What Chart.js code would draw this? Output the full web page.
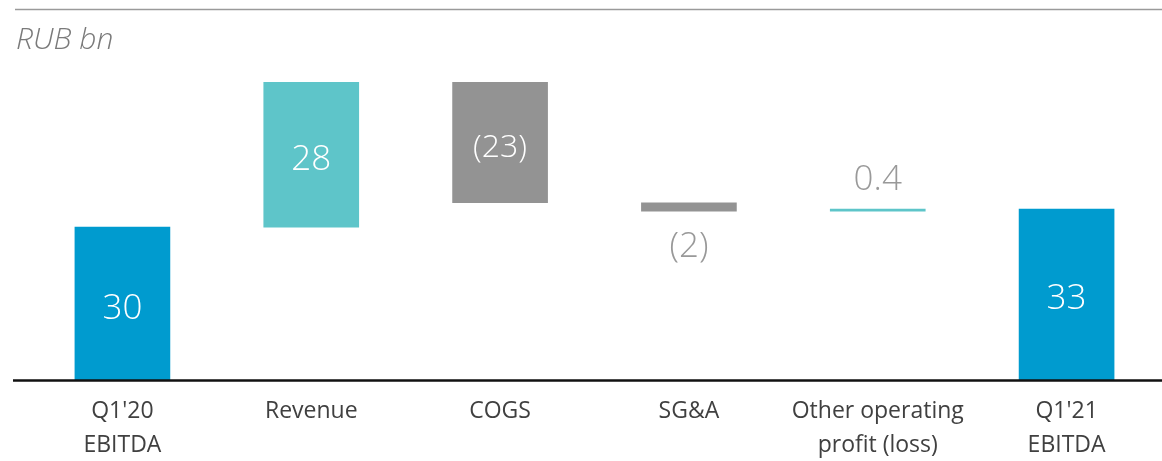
<!DOCTYPE html>
<html>
<head>
<meta charset="utf-8">
<script src="https://cdn.jsdelivr.net/npm/chart.js@4.4.1/dist/chart.umd.min.js"></script>
<style>
  html, body { margin: 0; padding: 0; background: #fff; }
  #wrap { position: relative; width: 1162px; height: 461px; }
</style>
</head>
<body>
<div id="wrap"><canvas id="graficoEbitda" width="1162" height="461"></canvas></div>
<script>
const categorias = [
  ["Q1'20", "EBITDA"],
  "Revenue",
  "COGS",
  "SG&A",
  ["Other operating", "profit (loss)"],
  ["Q1'21", "EBITDA"],
];
// first and last are totals, the rest are changes
const valores = [29.6, 28.0, -23.3, -1.6, 0.4, 33.1];
const rotulos = ["30", "28", "(23)", "(2)", "0.4", "33"];
const tipos = ["total", "delta", "delta", "delta", "delta", "total"];

const AZUL = "#009bcf";
const TURQUESA = "#5ec5c9";
const CINZA = "#939393";

// floating [base, top] ranges for the waterfall
const faixas = [];
const cores = [];
let acumulado = 0;
valores.forEach((v, i) => {
  if (tipos[i] === "total") {
    faixas.push([0, v]);
    cores.push(AZUL);
    acumulado = v;
  } else {
    faixas.push([acumulado, acumulado + v]);
    cores.push(v >= 0 ? TURQUESA : CINZA);
    acumulado += v;
  }
});

const linhasFixas = {
  id: "linhasFixas",
  afterDraw(chart) {
    const ctx = chart.ctx;
    const y0 = chart.scales.y.getPixelForValue(0);
    ctx.save();
    // top rule
    ctx.strokeStyle = "#9a9a9a";
    ctx.lineWidth = 1.5;
    ctx.beginPath();
    ctx.moveTo(15, 9.5);
    ctx.lineTo(chart.width, 9.5);
    ctx.stroke();
    // baseline
    ctx.strokeStyle = "#111";
    ctx.lineWidth = 2.5;
    ctx.beginPath();
    ctx.moveTo(13, y0 + 0.5);
    ctx.lineTo(chart.width, y0 + 0.5);
    ctx.stroke();
    // unit caption
    ctx.fillStyle = "#7a7a7a";
    ctx.font = "italic 300 30px 'Open Sans', sans-serif";
    ctx.textAlign = "left";
    ctx.textBaseline = "middle";
    ctx.fillText("RUB bn", 16, 40);
    ctx.restore();
  },
};

const rotulosBarras = {
  id: "rotulosBarras",
  afterDatasetsDraw(chart) {
    const ctx = chart.ctx;
    const meta = chart.getDatasetMeta(0);
    ctx.save();
    ctx.textAlign = "center";
    ctx.textBaseline = "middle";
    meta.data.forEach((bar, i) => {
      const { x, y, base } = bar.getProps(["x", "y", "base"], true);
      const topo = Math.min(y, base);
      const fundo = Math.max(y, base);
      const tamanho = i === 2 ? 32 : 35;
      ctx.font = `300 ${tamanho}px 'Open Sans', sans-serif`;
      if (fundo - topo > 50) {
        ctx.fillStyle = "#ffffff";
        ctx.fillText(rotulos[i], x, (topo + fundo) / 2 + 5);
      } else if (valores[i] < 0) {
        ctx.fillStyle = "#999999";
        ctx.fillText(rotulos[i], x, fundo + 36);
      } else {
        ctx.fillStyle = "#999999";
        ctx.fillText(rotulos[i], x, topo - 29);
      }
    });
    ctx.restore();
  },
};

const ctx = document.getElementById("graficoEbitda").getContext("2d");
new Chart(ctx, {
  type: "bar",
  data: {
    labels: categorias,
    datasets: [
      {
        data: faixas,
        backgroundColor: cores,
        borderWidth: 0,
        borderSkipped: false,
        barThickness: 95,
      },
    ],
  },
  options: {
    responsive: false,
    animation: false,
    layout: { padding: { top: 70, left: 28, right: 1, bottom: 0 } },
    scales: {
      x: {
        grid: { display: false, drawTicks: false },
        border: { display: false },
        ticks: {
          color: "#404040",
          padding: 15,
          maxRotation: 0,
          autoSkip: false,
          font: { family: "'Open Sans', sans-serif", size: 23, lineHeight: 1.45 },
        },
        afterFit(scale) {
          scale.height = 81;
        },
      },
      y: {
        display: false,
        min: 0,
        max: 60,
      },
    },
    plugins: {
      legend: { display: false },
      tooltip: { enabled: false },
      title: { display: false },
    },
  },
  plugins: [linhasFixas, rotulosBarras],
});
</script>
</body>
</html>
